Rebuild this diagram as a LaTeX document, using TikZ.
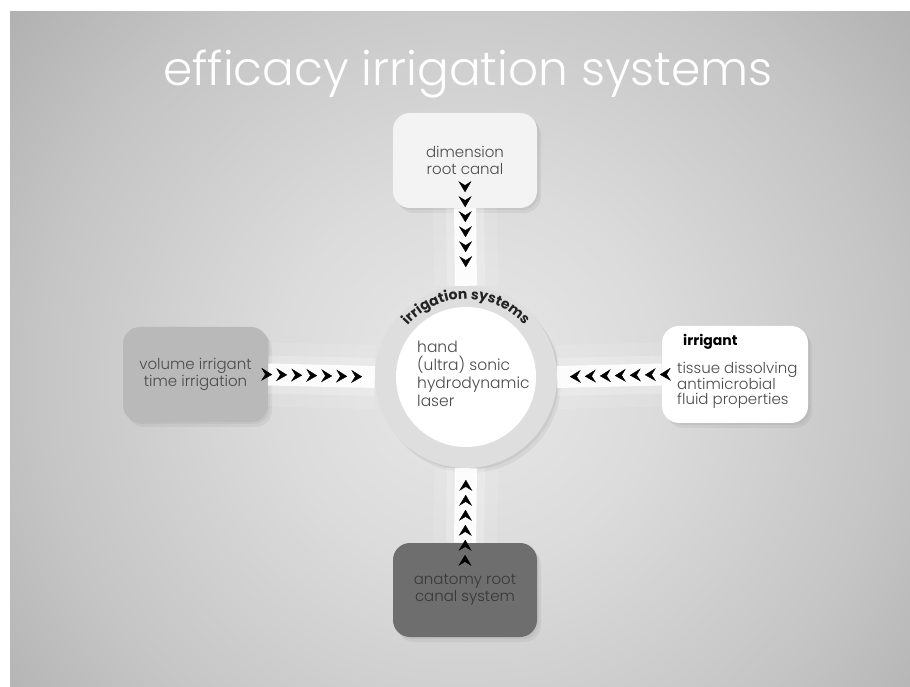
\documentclass[tikz,border=0pt]{standalone}
\usepackage{fontspec}
\setmainfont{Poppins}
\IfFontExistsTF{Poppins Light}{\newfontfamily\lightfam{Poppins Light}}{\newcommand\lightfam{\normalfont}}
\usetikzlibrary{arrows.meta,shadows,decorations.markings,decorations.text}
\pgfdeclareradialshading{bgshade}{\pgfpoint{0bp}{0bp}}{color(0bp)=(white!91!black); color(8bp)=(white!86!black); color(18bp)=(white!77!black); color(28bp)=(white!65!black); color(40bp)=(white!59!black); color(50bp)=(white!58!black)}
\definecolor{ringc}{HTML}{DEDEDE}
\definecolor{topc}{HTML}{F3F3F3}
\definecolor{leftc}{HTML}{B9B9B9}
\definecolor{botc}{HTML}{6E6E6E}
\definecolor{txtc}{HTML}{4A4A4A}
\definecolor{curvec}{HTML}{222222}
\tikzset{
  softshadow/.style={drop shadow={shadow xshift=2pt,shadow yshift=-2pt,opacity=.12},
                     drop shadow={shadow xshift=4pt,shadow yshift=-5pt,opacity=.12}},
  boxnode/.style={rounded corners=17pt, minimum width=144pt, minimum height=95pt,
                  inner sep=0pt, align=center, text=txtc,
                  font=\lightfam\fontsize{15}{17}\selectfont, softshadow},
  glowwide/.style={line width=64pt, white, opacity=.10},
  glowmid/.style={line width=38pt, white, opacity=.22},
  glowband/.style={line width=22pt, white, opacity=.88},
}
\newcommand\chev{\arrow{Stealth[length=11pt,width=13pt,inset=4pt]}}
\begin{document}
\begin{tikzpicture}[x=1pt,y=1pt]
\useasboundingbox (0,0) rectangle (910,686);
\fill[white] (0,0) rectangle (910,686);
\begin{scope}
  \clip (10,0) rectangle (910,674);
  \shade[shading=bgshade] (466,309) circle[radius=600pt];
\end{scope}

% title
\node[anchor=base, text=white, font=\lightfam\fontsize{47}{47}\selectfont] (title) at (468,600) {efficacy irrigation systems};

% boxes
\node[boxnode, fill=topc] (top) at (465,525.5) {dimension\\root canal};
\node[boxnode, fill=leftc, minimum width=145pt] (left) at (195.5,311.5) {volume irrigant\\time irrigation};
\node[boxnode, fill=white, minimum width=146pt, minimum height=97pt] (right) at (735,311.5) {};
\node[boxnode, fill=botc, text=black!78, minimum height=94pt] (bot) at (465,96) {anatomy root\\canal system};

% centre
\node[circle, fill=ringc, minimum size=182pt, inner sep=0pt, softshadow] (ring) at (466,309) {};
\node[circle, fill=white, minimum size=140pt, inner sep=0pt] (inner) at (466,309) {};

% right box texts
\node[anchor=west, inner sep=0pt, font=\bfseries\fontsize{14}{16}\selectfont, text=black] (irr) at (683,344) {irrigant};
\node[anchor=west, inner sep=0pt, align=left, text=txtc, font=\lightfam\fontsize{15}{15.5}\selectfont] (irrtxt) at (677,300.5) {tissue dissolving\\antimicrobial\\fluid properties};

% inner text
\node[anchor=west, inner sep=0pt, align=left, text=txtc, font=\lightfam\fontsize{15.5}{18}\selectfont] (systems) at (417,312) {hand\\(ultra) sonic\\hydrodynamic\\laser};

% curved label
\path[decorate, decoration={text along path, text align=center, text color=curvec,
  text={|\bfseries\fontsize{14}{14}\selectfont|irrigation systems}}]
  ([shift={(140:78pt)}]ring.center) arc[start angle=140, end angle=40, radius=78pt];

% glow bands
\foreach \s in {glowwide,glowmid,glowband}{
  \draw[\s] (top.south) -- (ring.north);
  \draw[\s] (left.east) -- (ring.west);
  \draw[\s] (right.west) -- (ring.east);
  \draw[\s] (bot.north) -- (ring.south);
}

% chevron chains
\coordinate (ta) at ([yshift=22pt]top.south);
\coordinate (ba) at ([yshift=-20pt]bot.north);
\path[postaction={decorate}, decoration={markings, mark=between positions 6pt and 82pt step 15pt with {\chev}}] (ta) -- (ring.north);
\path[postaction={decorate}, decoration={markings, mark=between positions 4pt and 95pt step 15pt with {\chev}}] (left.east) -- (ring.west);
\path[postaction={decorate}, decoration={markings, mark=between positions 2pt and 93pt step 15pt with {\chev}}] (right.west) -- (ring.east);
\path[postaction={decorate}, decoration={markings, mark=between positions 8pt and 84pt step 15pt with {\chev}}] (ba) -- (ring.south);
\end{tikzpicture}
\end{document}
